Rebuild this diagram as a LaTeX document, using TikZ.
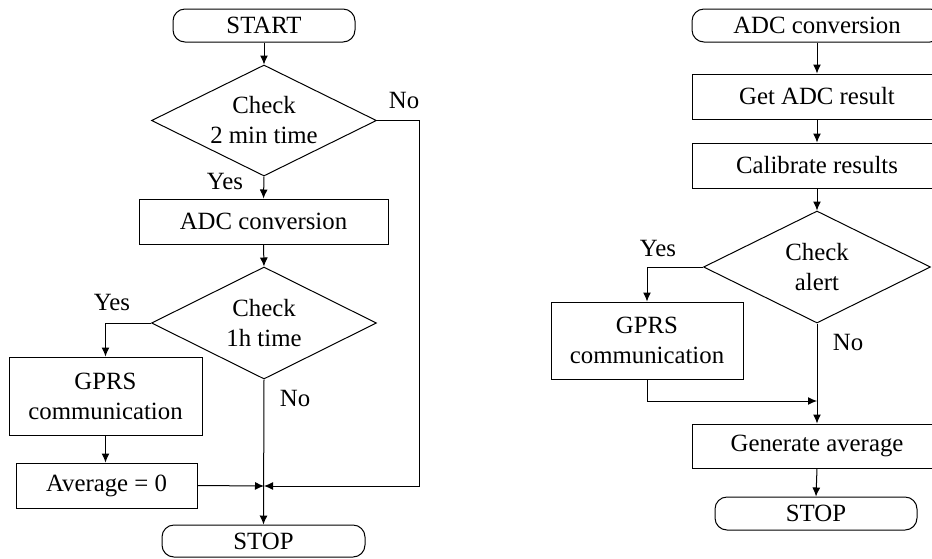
\documentclass[tikz,border=0pt]{standalone}
\usepackage{fontspec}
\setmainfont{Liberation Serif}
\usetikzlibrary{shapes.geometric,arrows.meta}
\begin{document}
\begin{tikzpicture}[x=1pt,y=-1pt,
  every node/.style={font=\fontsize{24.8}{30}\selectfont, inner sep=0pt, align=center},
  procbox/.style={draw, line width=1pt, rectangle},
  termbox/.style={draw, line width=1pt, rectangle, rounded corners=12pt},
  decbox/.style={draw, line width=1pt, diamond, shape aspect=2},
  lbl/.style={anchor=base},
  arr/.style={line width=1pt, -{Latex[length=9pt,width=8pt]}},
  ln/.style={line width=1pt}]
\useasboundingbox (0,0) rectangle (932,558);
\clip (0,0) rectangle (932,558);
% ---------- left chart ----------
\node[termbox, minimum width=182pt, minimum height=33pt] (start) at (264,25.5) {START};
\node[decbox, minimum width=225pt, minimum height=111pt] (d1) at (264,120.5) {Check\\2 min time};
\node[procbox, minimum width=249pt, minimum height=45pt] (adc) at (263.5,221.5) {ADC conversion};
\node[decbox, minimum width=225pt, minimum height=112pt] (d2) at (264,323) {Check\\1h time};
\node[procbox, minimum width=193pt, minimum height=78pt] (gprs) at (105.5,396) {GPRS\\communication};
\node[procbox, minimum width=181pt, minimum height=45pt] (avg) at (106.5,485.5) {Average = 0};
\node[termbox, minimum width=203pt, minimum height=32pt] (stop) at (263.5,541) {STOP};
\coordinate (m1) at (264,486);
\coordinate (cR) at (419,486);
\node[lbl] (no1) at (404,108) {No};
\node[lbl] (yes1) at (225,189) {Yes};
\node[lbl] (yes2) at (112,310) {Yes};
\node[lbl] (no2) at (295,406) {No};
\draw[arr] (start.south) -- (d1.north);
\draw[arr] (d1.south) -- (adc.north);
\draw[arr] (adc.south) -- (d2.north);
\draw[arr] (d1.east) -| (cR) -- (m1);
\draw[arr] (d2.west) -| (gprs.north);
\draw[arr] (gprs.south) -- (gprs.south |- avg.north);
\draw[arr] (avg.east) -- (m1);
\draw[arr] (d2.south) -- (stop.north);
% ---------- right chart ----------
\node[termbox, minimum width=250pt, minimum height=33pt] (adc2) at (817,25.5) {ADC conversion};
\node[procbox, minimum width=250pt, minimum height=45pt] (get) at (817,96.5) {Get ADC result};
\node[procbox, minimum width=250pt, minimum height=45pt] (cal) at (817,165.5) {Calibrate results};
\node[decbox, minimum width=227pt, minimum height=112pt] (d3) at (817,267) {Check\\alert};
\node[procbox, minimum width=192pt, minimum height=77pt] (gprs2) at (647,340.5) {GPRS\\communication};
\node[procbox, minimum width=250pt, minimum height=44pt] (gen) at (817,446) {Generate average};
\node[termbox, minimum width=202pt, minimum height=33pt] (stop2) at (816,513.5) {STOP};
\coordinate (m2) at (817,401);
\node[lbl] (yes3) at (658,256) {Yes};
\node[lbl] (no3) at (848,350) {No};
\draw[arr] (adc2.south) -- (get.north);
\draw[arr] (get.south) -- (cal.north);
\draw[arr] (cal.south) -- (d3.north);
\draw[arr] (d3.west) -| (gprs2.north);
\draw[arr] (gprs2.south) |- (m2);
\draw[arr] (d3.south) -- (gen.north);
\draw[arr] (gen.south) -- (stop2.north);
\end{tikzpicture}
\end{document}
